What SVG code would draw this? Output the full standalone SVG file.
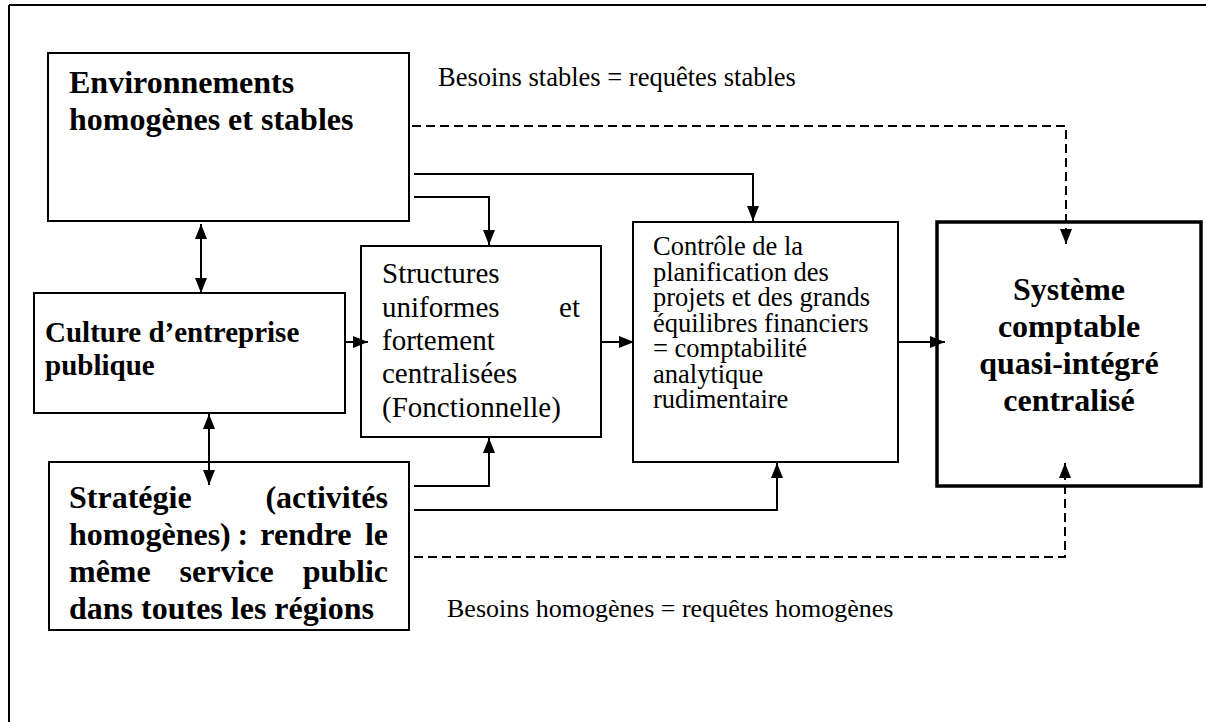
<svg xmlns="http://www.w3.org/2000/svg" width="1206" height="722" viewBox="0 0 1206 722">
<style>
.box{fill:#fff;stroke:#000;stroke-width:2}
.thick{fill:#fff;stroke:#000;stroke-width:3.5}
text{font-family:'Liberation Serif','DejaVu Serif',serif;fill:#000}
.b{font-weight:bold;font-size:32px}
.r{font-size:26.5px}
.r29{font-size:29px}
.ln{fill:none;stroke:#000;stroke-width:2}
.dash{fill:none;stroke:#000;stroke-width:2;stroke-dasharray:9 5}
</style>
<defs>
<marker id="ah" markerUnits="userSpaceOnUse" markerWidth="15" markerHeight="12" refX="15" refY="6" orient="auto-start-reverse">
<path d="M0,0 L15,6 L0,12 z" fill="#000"/>
</marker>
</defs>
<rect width="1206" height="722" fill="#fff"/>
<g id="frame">
<line x1="9" y1="5" x2="1206" y2="5" stroke="#000" stroke-width="2"/>
<line x1="9" y1="5" x2="9" y2="722" stroke="#000" stroke-width="2"/>
</g>
<g id="env">
<rect class="box" x="48" y="53" width="361" height="168"/>
<text class="b" x="69" y="93">Environnements</text>
<text class="b" x="69" y="130">homogènes et stables</text>
</g>
<g id="culture">
<rect class="box" x="34" y="293" width="311" height="120"/>
<text class="b" style="font-size:29px" x="45" y="342">Culture d’entreprise</text>
<text class="b" style="font-size:29px" x="45" y="375">publique</text>
</g>
<g id="strategie">
<rect class="box" x="49" y="462" width="360" height="168"/>
<text class="b" x="69" y="508">Stratégie</text>
<text class="b" x="388" y="508" text-anchor="end">(activités</text>
<text class="b" y="545"><tspan x="69">homogènes)</tspan><tspan x="237.5">:</tspan><tspan x="260.3">rendre</tspan></text>
<text class="b" x="388" y="545" text-anchor="end">le</text>
<text class="b" y="582"><tspan x="69">même</tspan><tspan x="179.6">service</tspan></text>
<text class="b" x="388" y="582" text-anchor="end">public</text>
<text class="b" x="69" y="619">dans toutes les régions</text>
</g>
<g id="structures">
<rect class="box" x="361" y="246" width="240" height="191"/>
<text class="r29" x="382" y="283">Structures</text>
<text class="r29" x="382" y="317">uniformes</text>
<text class="r29" x="580" y="317" text-anchor="end">et</text>
<text class="r29" x="382" y="350">fortement</text>
<text class="r29" x="382" y="383">centralisées</text>
<text class="r29" x="382" y="417">(Fonctionnelle)</text>
</g>
<g id="controle">
<rect class="box" x="633" y="222" width="265" height="240"/>
<text class="r" x="653" y="255">Contrôle de la</text>
<text class="r" x="653" y="280.5">planification des</text>
<text class="r" x="653" y="306">projets et des grands</text>
<text class="r" x="653" y="331.5">équilibres financiers</text>
<text class="r" x="653" y="357">= comptabilité</text>
<text class="r" x="653" y="382.5">analytique</text>
<text class="r" x="653" y="408">rudimentaire</text>
</g>
<g id="systeme">
<rect class="thick" x="937" y="222" width="264" height="264"/>
<text class="b" x="1069" y="300" text-anchor="middle">Système</text>
<text class="b" x="1069" y="337" text-anchor="middle">comptable</text>
<text class="b" x="1069" y="374" text-anchor="middle">quasi-intégré</text>
<text class="b" x="1069" y="411" text-anchor="middle">centralisé</text>
</g>
<g id="labels">
<text class="r" x="438" y="86">Besoins stables = requêtes stables</text>
<text class="r" style="font-size:26px" x="447" y="617">Besoins homogènes = requêtes homogènes</text>
</g>
<g id="connectors">
<path class="ln" d="M414 197 H489 V245" marker-end="url(#ah)"/>
<path class="ln" d="M414 174 H753 V221" marker-end="url(#ah)"/>
<path class="dash" d="M412 126 H1066 V244" marker-end="url(#ah)"/>
<path class="ln" d="M201 224 V293" marker-start="url(#ah)" marker-end="url(#ah)"/>
<path class="ln" d="M209 414 V485" marker-start="url(#ah)" marker-end="url(#ah)"/>
<path class="ln" d="M345 342 H368" marker-end="url(#ah)"/>
<path class="ln" d="M601 342 H634" marker-end="url(#ah)"/>
<path class="ln" d="M898 342 H945" marker-end="url(#ah)"/>
<path class="ln" d="M414 486 H489 V438" marker-end="url(#ah)"/>
<path class="ln" d="M414 510 H777 V463" marker-end="url(#ah)"/>
<path class="dash" d="M414 557 H1065 V463" marker-end="url(#ah)"/>
</g>
</svg>
